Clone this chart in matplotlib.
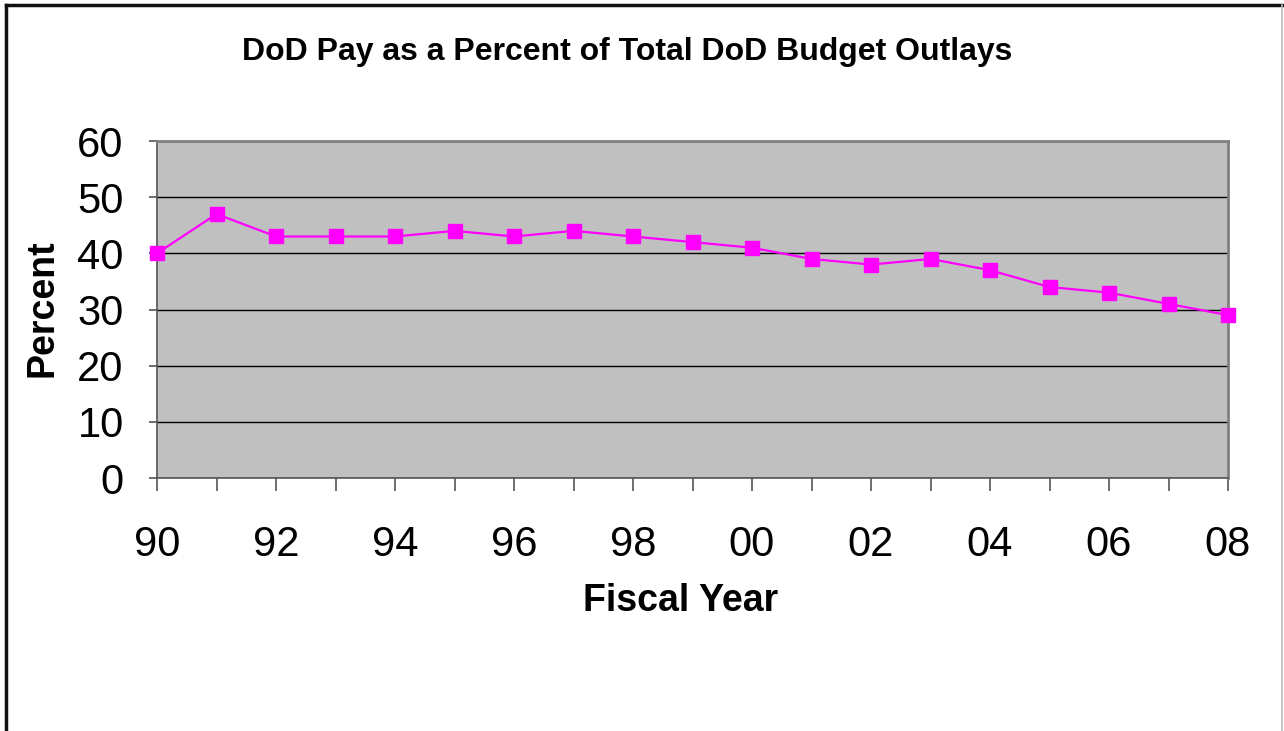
import matplotlib
matplotlib.use('Agg')
import matplotlib.pyplot as plt
from matplotlib.lines import Line2D

plt.rcParams['font.family'] = ['Liberation Sans', 'DejaVu Sans']

# data
years = ['90', '91', '92', '93', '94', '95', '96', '97', '98', '99',
         '00', '01', '02', '03', '04', '05', '06', '07', '08']
pay_pct = [40, 47, 43, 43, 43, 44, 43, 44, 43, 42,
           41, 39, 38, 39, 37, 34, 33, 31, 29]
y_ticks = [0, 10, 20, 30, 40, 50, 60]

fig = plt.figure(figsize=(12.84, 7.31), dpi=100)
ax = fig.add_axes([157/1284, 1 - 478/731, (1228 - 157)/1284, (478 - 141)/731])

x = list(range(len(years)))
ax.set_facecolor('#C0C0C0')
ax.plot(x, pay_pct, color='#FF00FF', lw=1.6, marker='s', ms=10,
        mec='#FF00FF', mfc='#FF00FF', clip_on=False, zorder=5)

ax.set_xlim(0, len(years) - 1)
ax.set_ylim(0, 60)
ax.set_yticks(y_ticks)
ax.yaxis.grid(True, color='black', lw=1.0)
ax.set_axisbelow(True)

ax.set_xticks(x)
ax.set_xticklabels([y if i % 2 == 0 else '' for i, y in enumerate(years)])

for s in ['top', 'right']:
    ax.spines[s].set_color('#808080')
    ax.spines[s].set_linewidth(2)
for s in ['left', 'bottom']:
    ax.spines[s].set_color('#555555')
    ax.spines[s].set_linewidth(1.2)

ax.tick_params(axis='x', direction='out', length=9, width=1.2, color='#555555',
               labelsize=30, pad=25)
ax.tick_params(axis='y', direction='out', length=6, width=1.2, color='#555555',
               labelsize=30, pad=18)

fig.text(681/1284, 1 - 601/731, 'Fiscal Year', ha='center', va='center',
         fontsize=27, fontweight='bold')
fig.text(43/1284, 1 - 308/731, 'Percent', ha='center', va='center', rotation=90,
         fontsize=27, fontweight='bold')

fig.text(627/1284, 1 - 52/731, 'DoD Pay as a Percent of Total DoD Budget Outlays',
         ha='center', va='center', fontsize=23, fontweight='bold')

# outer frame of the slide
fig.add_artist(Line2D([6/1284, 6/1284], [0, 1 - 5/731], color='#111111', lw=2.5,
                      transform=fig.transFigure))
fig.add_artist(Line2D([6/1284, 1282/1284], [1 - 5/731, 1 - 5/731], color='#111111', lw=2.5,
                      transform=fig.transFigure))
fig.add_artist(Line2D([1282/1284, 1282/1284], [0, 1 - 5/731], color='#BBBBBB', lw=1.2,
                      transform=fig.transFigure))

fig.savefig('out.png', dpi=100)
